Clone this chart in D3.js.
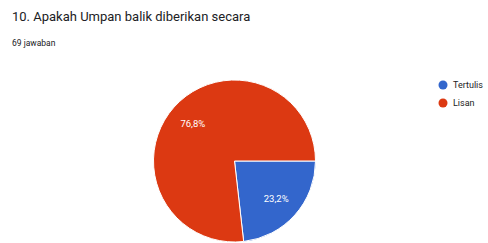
<!DOCTYPE html>
<html><head><meta charset="utf-8">
<script src="https://cdn.jsdelivr.net/npm/d3@7"></script>
<style>body{margin:0;background:#fff;}svg{display:block;}</style>
</head><body>
<script>
const categories = ["Tertulis", "Lisan"];
const values = [23.2, 76.8];
const labels = ["23,2%", "76,8%"];
const colors = ["#3366cc", "#dc3912"];
const title = "10. Apakah Umpan balik diberikan secara";
const subtitle = "69 jawaban";

const W = 488, H = 243;
const svg = d3.select("body").append("svg").attr("width", W).attr("height", H);

svg.append("text").attr("x", 12).attr("y", 21).text(title)
  .attr("font-family", "Roboto, 'Open Sans', sans-serif").attr("font-size", 13)
  .attr("fill", "#202124");
svg.append("text").attr("x", 12).attr("y", 46).text(subtitle)
  .attr("font-family", "Roboto, sans-serif").attr("font-size", 8.5)
  .attr("fill", "#202124");

const cx = 234.5, cy = 161, r = 81;
const pie = d3.pie().sort(null).value(d => d)
  .startAngle(Math.PI / 2).endAngle(Math.PI / 2 + 2 * Math.PI);
const arcs = pie(values);
const arc = d3.arc().innerRadius(0).outerRadius(r);
const g = svg.append("g").attr("transform", `translate(${cx},${cy})`);
g.selectAll("path").data(arcs).join("path")
  .attr("d", arc).attr("fill", (d, i) => colors[i])
  .attr("stroke", "#fff").attr("stroke-width", 1);
const labelArc = d3.arc().innerRadius(r * 0.69).outerRadius(r * 0.69);
g.selectAll("text").data(arcs).join("text")
  .attr("transform", d => `translate(${labelArc.centroid(d)})`)
  .attr("text-anchor", "middle").attr("dy", "0.35em")
  .attr("font-family", "Roboto, sans-serif").attr("font-size", 9.5)
  .attr("fill", "#fff").text((d, i) => labels[i]);

const legend = svg.append("g");
categories.forEach((c, i) => {
  const y = 85 + i * 18;
  legend.append("circle").attr("cx", 443).attr("cy", y).attr("r", 4.5).attr("fill", colors[i]);
  legend.append("text").attr("x", 453).attr("y", y).attr("dy", "0.35em")
    .attr("font-family", "Roboto, sans-serif").attr("font-size", 9)
    .attr("fill", "#222").text(c);
});
</script>
</body></html>
